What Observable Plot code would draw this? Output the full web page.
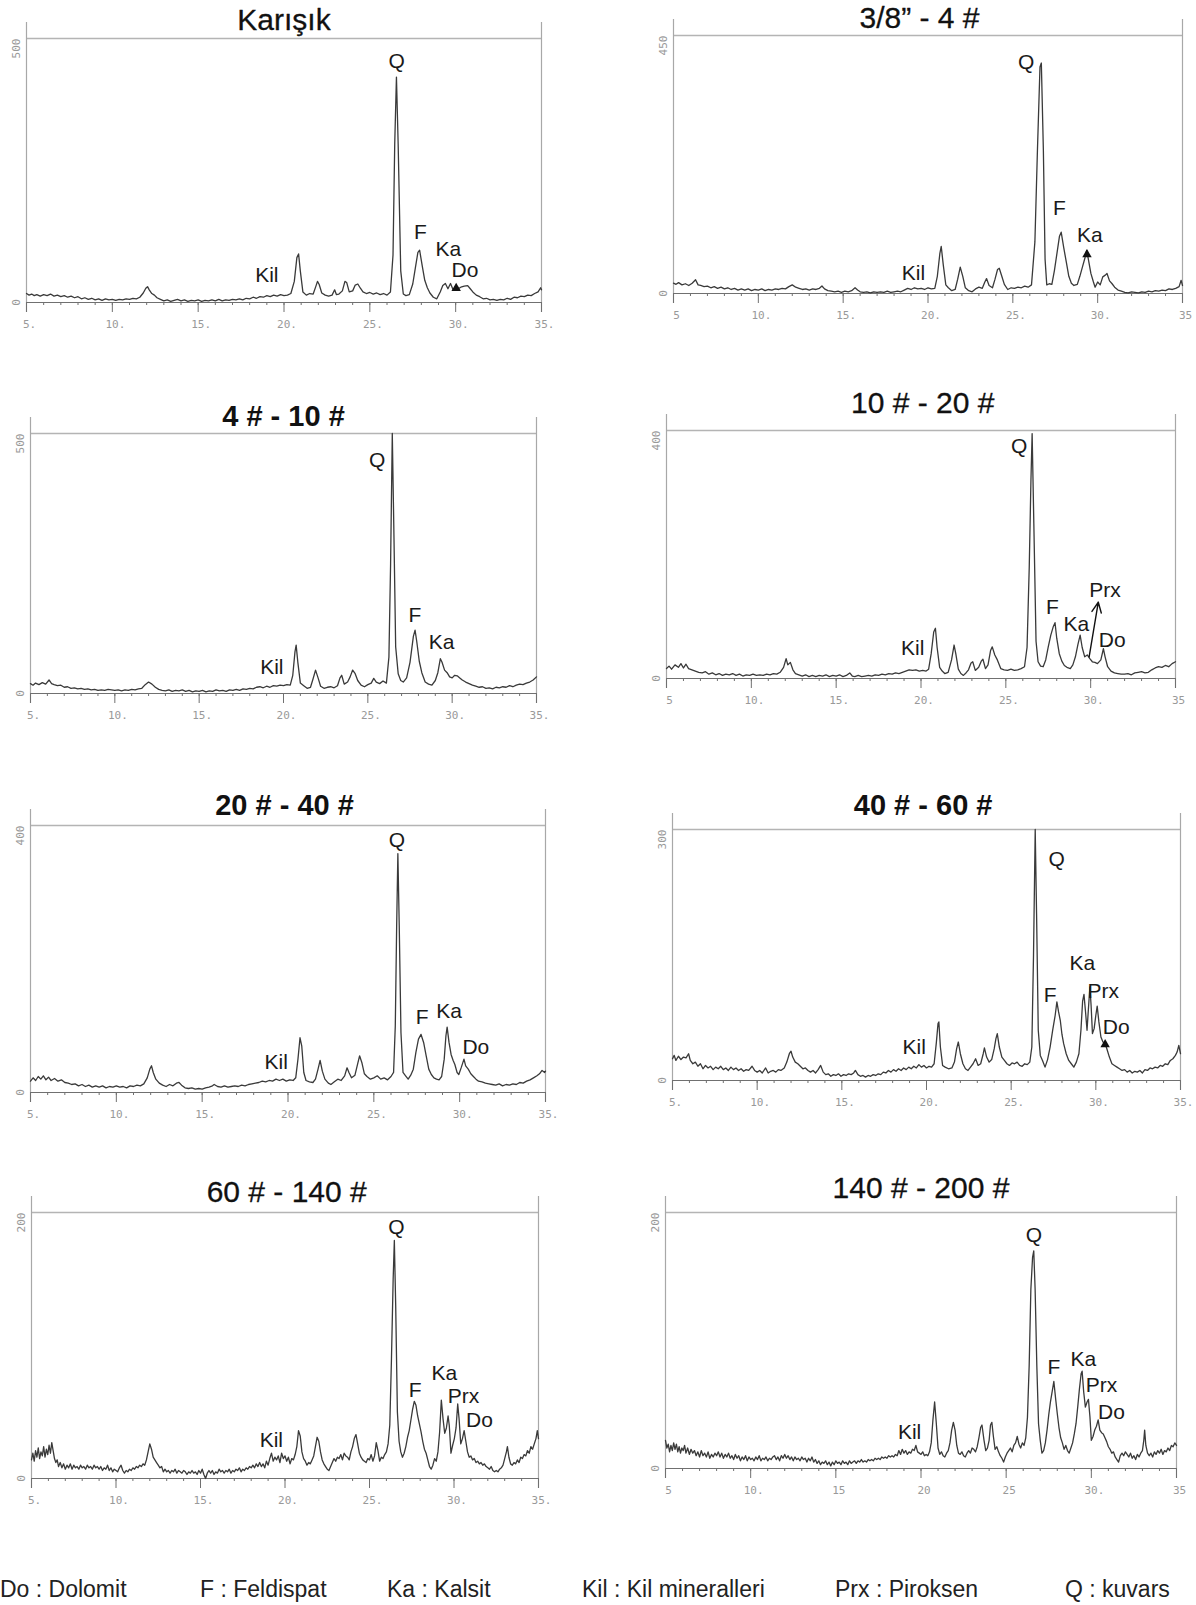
<!DOCTYPE html>
<html><head><meta charset="utf-8">
<script src="https://cdn.jsdelivr.net/npm/d3@7"></script>
<script src="https://cdn.jsdelivr.net/npm/@observablehq/plot@0.6"></script>
<style>
body{margin:0;background:#fff;}
#fig{position:relative;width:1196px;height:1605px;background:#fff;font-family:"Liberation Sans",Arial,sans-serif;overflow:hidden;}
.panel{position:absolute;}
.legend{position:absolute;top:1575px;font-size:23px;line-height:28px;color:#222;white-space:nowrap;font-family:"Liberation Sans",Arial,sans-serif;}
</style></head><body><div id="fig"></div>
<script>
// ---------- data: 2θ (deg) vs intensity (counts) ----------
const karisik = [[5,17],[5.15,14],[5.3,16],[5.45,13],[5.6,15],[5.8,12],[6,15],[6.2,13],[6.4,16],[6.6,12],[6.8,14],[7,11],[7.2,13],[7.4,10],[7.6,12],[7.8,9],[8,11],[8.2,7],[8.4,9],[8.6,6],[8.8,8],[9,5],[9.2,7],[9.4,4],[9.6,7],[9.8,5],[10,6],[10.2,4],[10.4,6],[10.6,5],[10.8,7],[11,6],[11.2,8],[11.4,7],[11.6,10],[11.8,18],[11.95,27],[12.05,30],[12.15,24],[12.3,17],[12.45,14],[12.6,9],[12.8,6],[13,3],[13.2,5],[13.4,2],[13.6,4],[13.8,6],[14,3],[14.2,5],[14.4,2],[14.6,4],[14.8,3],[15,5],[15.2,2],[15.4,4],[15.6,3],[15.8,5],[16,3],[16.2,6],[16.4,3],[16.6,5],[16.8,4],[17,6],[17.2,5],[17.4,7],[17.6,5],[17.8,8],[18,7],[18.2,10],[18.4,8],[18.6,11],[18.8,10],[19,13],[19.2,11],[19.4,14],[19.6,12],[19.8,15],[20,13],[20.2,14],[20.4,17],[20.6,40],[20.75,85],[20.85,92],[20.95,60],[21.1,20],[21.3,14],[21.5,17],[21.7,16],[21.85,30],[21.95,40],[22.05,34],[22.2,18],[22.4,14],[22.6,12],[22.8,14],[22.95,24],[23.05,15],[23.2,16],[23.4,22],[23.55,40],[23.65,38],[23.8,20],[24,22],[24.15,33],[24.3,35],[24.45,27],[24.6,20],[24.8,17],[25,19],[25.2,16],[25.4,18],[25.6,15],[25.8,17],[26,14],[26.2,20],[26.35,90],[26.45,300],[26.55,427],[26.65,300],[26.8,60],[26.95,16],[27.1,13],[27.3,15],[27.5,35],[27.65,65],[27.8,95],[27.9,99],[28.05,70],[28.2,42],[28.35,28],[28.5,18],[28.7,10],[28.9,7],[29.1,20],[29.25,32],[29.4,36],[29.55,26],[29.7,36],[29.85,24],[30,30],[30.15,26],[30.3,29],[30.5,31],[30.7,32],[30.85,26],[31,20],[31.2,14],[31.4,11],[31.6,7],[31.8,8],[32,5],[32.2,6],[32.4,4],[32.6,6],[32.8,5],[33,8],[33.2,6],[33.4,10],[33.6,9],[33.8,12],[34,11],[34.2,14],[34.4,13],[34.6,17],[34.8,20],[34.95,28],[35,24]];

const s38_4 = [[5,18],[5.15,16],[5.3,19],[5.5,15],[5.7,17],[5.9,14],[6.1,18],[6.3,24],[6.45,15],[6.6,14],[6.8,12],[7,13],[7.2,10],[7.4,12],[7.6,9],[7.8,11],[8,8],[8.2,10],[8.4,7],[8.6,9],[8.8,6],[9,8],[9.2,6],[9.4,8],[9.6,5],[9.8,7],[10,6],[10.2,8],[10.4,5],[10.6,7],[10.8,6],[11,8],[11.2,7],[11.4,9],[11.6,8],[11.8,12],[12,15],[12.2,11],[12.4,9],[12.6,7],[12.8,8],[13,6],[13.2,8],[13.4,7],[13.6,9],[13.75,13],[13.9,8],[14.1,5],[14.3,4],[14.5,3],[14.7,4],[14.9,2],[15.1,4],[15.3,3],[15.5,5],[15.7,10],[15.85,6],[16,3],[16.2,2],[16.4,3],[16.6,1],[16.8,3],[17,2],[17.2,3],[17.4,2],[17.6,4],[17.8,2],[18,3],[18.2,4],[18.4,3],[18.6,6],[18.8,9],[19,7],[19.2,10],[19.4,8],[19.6,9],[19.8,7],[20,10],[20.2,8],[20.4,9],[20.55,30],[20.7,70],[20.78,82],[20.9,50],[21.05,15],[21.2,10],[21.4,5],[21.6,7],[21.75,25],[21.9,46],[22.05,30],[22.2,10],[22.4,5],[22.6,3],[22.8,8],[23,11],[23.2,9],[23.35,20],[23.45,26],[23.6,14],[23.8,10],[23.95,25],[24.1,42],[24.2,44],[24.35,30],[24.5,16],[24.7,7],[24.9,10],[25.1,9],[25.3,11],[25.5,10],[25.7,13],[25.9,11],[26.1,15],[26.3,90],[26.45,250],[26.6,395],[26.68,402],[26.8,250],[26.9,60],[27,15],[27.15,17],[27.3,16],[27.45,40],[27.6,70],[27.75,100],[27.85,107],[28,80],[28.15,55],[28.3,30],[28.45,18],[28.6,14],[28.8,16],[28.95,30],[29.1,46],[29.25,62],[29.35,75],[29.45,60],[29.6,35],[29.75,20],[29.85,11],[30,20],[30.15,15],[30.3,29],[30.45,32],[30.55,35],[30.7,22],[30.85,17],[31,11],[31.2,6],[31.4,4],[31.6,2],[31.8,1],[32,3],[32.2,2],[32.4,1],[32.6,3],[32.8,2],[33,4],[33.2,3],[33.4,5],[33.6,4],[33.8,6],[34,5],[34.2,8],[34.4,7],[34.6,9],[34.8,12],[34.92,23],[35,14]];

const s4_10 = [[5,19],[5.15,16],[5.3,20],[5.5,17],[5.7,21],[5.9,18],[6.1,26],[6.25,19],[6.4,17],[6.6,15],[6.8,16],[7,12],[7.2,13],[7.4,10],[7.6,11],[7.8,9],[8,10],[8.2,8],[8.4,9],[8.6,7],[8.8,8],[9,6],[9.2,7],[9.4,6],[9.6,8],[9.8,7],[10,6],[10.2,7],[10.4,5],[10.6,7],[10.8,6],[11,8],[11.2,7],[11.4,9],[11.6,10],[11.8,17],[12,22],[12.2,18],[12.4,12],[12.6,8],[12.8,6],[13,5],[13.2,7],[13.4,4],[13.6,6],[13.8,5],[14,7],[14.2,4],[14.4,6],[14.6,3],[14.8,5],[15,4],[15.2,6],[15.4,3],[15.6,5],[15.8,4],[16,7],[16.2,5],[16.4,6],[16.6,4],[16.8,7],[17,6],[17.2,8],[17.4,6],[17.6,9],[17.8,8],[18,10],[18.2,9],[18.4,12],[18.6,13],[18.8,11],[19,14],[19.2,12],[19.4,15],[19.6,14],[19.8,16],[20,15],[20.2,17],[20.4,16],[20.55,35],[20.68,80],[20.75,93],[20.85,60],[21,20],[21.2,15],[21.4,10],[21.6,12],[21.75,28],[21.9,45],[22.05,30],[22.2,14],[22.4,10],[22.6,12],[22.8,13],[23,11],[23.2,15],[23.35,30],[23.45,35],[23.6,18],[23.8,22],[23.95,32],[24.1,45],[24.25,38],[24.4,25],[24.6,16],[24.8,13],[25,17],[25.2,20],[25.35,29],[25.5,22],[25.7,19],[25.9,24],[26.1,20],[26.25,70],[26.35,250],[26.45,500],[26.55,300],[26.65,90],[26.8,38],[26.95,25],[27.1,22],[27.3,30],[27.5,60],[27.7,110],[27.8,122],[27.9,100],[28.05,62],[28.2,40],[28.4,22],[28.6,18],[28.8,16],[29,25],[29.15,40],[29.3,67],[29.4,60],[29.55,45],[29.7,40],[29.85,32],[30,30],[30.15,35],[30.3,34],[30.45,30],[30.6,26],[30.8,22],[31,19],[31.2,16],[31.4,14],[31.6,12],[31.8,13],[32,10],[32.2,11],[32.4,9],[32.6,12],[32.8,11],[33,13],[33.2,12],[33.4,15],[33.6,13],[33.8,16],[34,18],[34.2,17],[34.4,20],[34.6,22],[34.8,26],[35,32]];

const s10_20 = [[5,16],[5.15,20],[5.3,15],[5.5,22],[5.7,18],[5.85,24],[6,17],[6.15,23],[6.3,16],[6.5,14],[6.7,12],[6.9,10],[7.1,9],[7.3,11],[7.5,7],[7.7,9],[7.9,6],[8.1,8],[8.3,5],[8.5,7],[8.7,6],[8.9,8],[9.1,5],[9.3,7],[9.5,4],[9.7,6],[9.9,5],[10.1,7],[10.3,5],[10.5,6],[10.7,5],[10.9,7],[11.1,6],[11.3,8],[11.5,7],[11.7,10],[11.9,18],[12.05,32],[12.15,22],[12.3,26],[12.45,14],[12.6,8],[12.8,6],[13,4],[13.2,6],[13.4,3],[13.6,5],[13.8,3],[14,5],[14.2,4],[14.4,6],[14.6,3],[14.8,5],[15,4],[15.2,6],[15.4,3],[15.6,5],[15.8,9],[15.95,4],[16.1,3],[16.3,5],[16.5,3],[16.7,4],[16.9,5],[17.1,4],[17.3,6],[17.5,5],[17.7,7],[17.9,6],[18.1,8],[18.3,7],[18.5,9],[18.7,8],[18.9,10],[19.1,12],[19.3,14],[19.5,13],[19.7,14],[19.9,12],[20.1,13],[20.3,12],[20.45,15],[20.6,40],[20.75,75],[20.85,81],[20.95,50],[21.1,18],[21.25,12],[21.4,8],[21.6,10],[21.8,30],[21.95,54],[22.05,40],[22.2,15],[22.35,8],[22.5,5],[22.65,9],[22.8,14],[22.95,25],[23.05,27],[23.2,13],[23.4,18],[23.55,28],[23.65,31],[23.8,16],[23.95,22],[24.1,45],[24.2,51],[24.35,38],[24.5,30],[24.7,16],[24.9,14],[25.1,13],[25.3,15],[25.5,13],[25.7,14],[25.9,16],[26.1,19],[26.25,50],[26.38,180],[26.48,320],[26.55,395],[26.65,250],[26.78,60],[26.9,27],[27.05,20],[27.2,19],[27.35,30],[27.5,51],[27.65,70],[27.8,84],[27.9,90],[28,65],[28.15,40],[28.3,28],[28.45,21],[28.6,18],[28.8,16],[28.95,22],[29.1,35],[29.25,55],[29.38,70],[29.5,50],[29.65,35],[29.8,38],[29.95,32],[30.1,27],[30.25,26],[30.4,24],[30.6,30],[30.75,48],[30.85,35],[31,19],[31.2,12],[31.4,9],[31.6,8],[31.8,7],[32,7],[32.2,8],[32.4,6],[32.6,9],[32.8,10],[33,11],[33.2,9],[33.4,10],[33.6,14],[33.8,17],[34,19],[34.2,18],[34.4,21],[34.6,19],[34.8,24],[35,27]];

const s20_40 = [[5,17],[5.15,22],[5.3,18],[5.45,24],[5.6,20],[5.75,25],[5.9,19],[6.05,23],[6.2,18],[6.4,21],[6.6,17],[6.8,19],[7,15],[7.2,14],[7.4,12],[7.6,13],[7.8,10],[8,12],[8.2,9],[8.4,11],[8.6,8],[8.8,10],[9,8],[9.2,10],[9.4,7],[9.6,9],[9.8,8],[10,10],[10.2,8],[10.4,9],[10.6,7],[10.8,10],[11,9],[11.2,11],[11.4,10],[11.6,13],[11.8,22],[11.95,35],[12.05,40],[12.15,30],[12.3,20],[12.5,14],[12.7,11],[12.9,9],[13.1,12],[13.3,10],[13.5,14],[13.65,15],[13.8,11],[14,7],[14.2,6],[14.4,7],[14.6,5],[14.8,6],[15,5],[15.2,7],[15.4,8],[15.6,10],[15.7,12],[15.9,9],[16.1,8],[16.3,10],[16.5,8],[16.7,9],[16.9,10],[17.1,9],[17.3,11],[17.5,10],[17.7,12],[17.9,13],[18.1,14],[18.3,15],[18.5,17],[18.7,16],[18.9,18],[19.1,17],[19.3,20],[19.5,18],[19.7,20],[19.9,17],[20.1,19],[20.3,18],[20.45,22],[20.58,50],[20.7,82],[20.8,70],[20.92,30],[21.05,18],[21.25,16],[21.45,15],[21.6,20],[21.75,35],[21.87,48],[22,32],[22.15,20],[22.35,14],[22.5,12],[22.7,16],[22.9,20],[23.1,18],[23.3,25],[23.44,37],[23.55,30],[23.7,22],[23.9,26],[24.05,42],[24.17,55],[24.3,45],[24.45,28],[24.6,24],[24.8,20],[25,22],[25.2,25],[25.4,20],[25.6,22],[25.8,19],[26,24],[26.15,30],[26.25,100],[26.33,250],[26.4,358],[26.48,250],[26.58,90],[26.7,30],[26.85,25],[27,20],[27.15,26],[27.3,35],[27.45,60],[27.6,80],[27.75,87],[27.9,75],[28.05,55],[28.2,35],[28.35,27],[28.5,22],[28.65,20],[28.8,19],[28.95,24],[29.1,50],[29.2,85],[29.27,98],[29.38,75],[29.5,57],[29.62,48],[29.72,42],[29.85,30],[29.95,27],[30.1,38],[30.25,50],[30.35,40],[30.5,35],[30.65,28],[30.8,24],[30.95,20],[31.1,17],[31.3,16],[31.5,14],[31.7,13],[31.9,12],[32.1,11],[32.3,13],[32.5,10],[32.7,12],[32.9,11],[33.1,13],[33.3,12],[33.5,15],[33.7,14],[33.9,17],[34.1,19],[34.3,22],[34.5,25],[34.65,28],[34.8,33],[34.95,30],[35,32]];

const s40_60 = [[5,26],[5.1,30],[5.2,24],[5.35,29],[5.5,25],[5.65,28],[5.8,27],[5.95,32],[6.05,24],[6.2,20],[6.35,22],[6.5,17],[6.65,20],[6.8,14],[6.95,18],[7.1,15],[7.25,17],[7.4,13],[7.55,16],[7.7,14],[7.85,17],[8,13],[8.15,15],[8.3,12],[8.45,16],[8.6,13],[8.75,15],[8.9,12],[9.05,14],[9.2,11],[9.35,13],[9.5,12],[9.7,17],[9.85,12],[10,10],[10.15,12],[10.3,9],[10.5,15],[10.65,9],[10.8,11],[10.95,12],[11.1,10],[11.25,13],[11.4,12],[11.6,15],[11.75,22],[11.9,32],[12,35],[12.1,28],[12.25,22],[12.4,20],[12.55,17],[12.7,14],[12.85,15],[13,12],[13.15,10],[13.3,12],[13.45,9],[13.6,13],[13.75,18],[13.9,10],[14.05,7],[14.2,8],[14.35,5],[14.5,7],[14.65,6],[14.8,8],[14.95,5],[15.1,7],[15.25,6],[15.4,8],[15.55,7],[15.7,9],[15.8,12],[15.95,7],[16.1,5],[16.25,6],[16.4,4],[16.55,6],[16.7,5],[16.85,7],[17,6],[17.15,8],[17.3,7],[17.45,10],[17.6,9],[17.75,12],[17.9,10],[18.05,13],[18.2,11],[18.35,14],[18.5,12],[18.65,15],[18.8,13],[18.95,16],[19.1,14],[19.25,17],[19.4,15],[19.55,19],[19.7,16],[19.85,18],[20,15],[20.15,17],[20.3,16],[20.45,20],[20.58,45],[20.68,68],[20.73,70],[20.82,40],[20.95,18],[21.1,16],[21.3,14],[21.5,15],[21.65,22],[21.78,38],[21.88,46],[22,32],[22.15,20],[22.3,14],[22.45,12],[22.6,16],[22.75,20],[22.9,26],[23.05,18],[23.2,20],[23.35,32],[23.42,39],[23.55,28],[23.7,22],[23.85,25],[24,38],[24.1,50],[24.18,56],[24.3,40],[24.45,28],[24.6,24],[24.75,20],[24.9,18],[25.05,21],[25.2,20],[25.35,22],[25.5,18],[25.65,17],[25.8,20],[25.95,19],[26.1,22],[26.22,40],[26.32,150],[26.42,300],[26.5,200],[26.6,60],[26.72,30],[26.85,24],[27,16],[27.15,25],[27.3,40],[27.45,60],[27.6,78],[27.7,94],[27.8,82],[27.9,72],[28,55],[28.1,44],[28.25,32],[28.4,24],[28.55,20],[28.7,16],[28.85,22],[29,32],[29.12,60],[29.22,95],[29.3,103],[29.4,80],[29.48,60],[29.56,85],[29.65,112],[29.72,90],[29.8,56],[29.9,62],[30,78],[30.08,89],[30.18,70],[30.3,52],[30.42,46],[30.55,44],[30.65,38],[30.8,28],[30.95,20],[31.1,18],[31.25,16],[31.4,14],[31.55,12],[31.7,13],[31.85,10],[32,12],[32.15,9],[32.3,11],[32.45,10],[32.6,12],[32.75,9],[32.9,13],[33.05,12],[33.2,15],[33.35,14],[33.5,16],[33.65,15],[33.8,18],[33.95,17],[34.1,20],[34.25,19],[34.4,24],[34.55,26],[34.7,30],[34.8,34],[34.9,42],[35,32]];

const s60_140 = [[5,14],[5.08,19],[5.16,13],[5.24,21],[5.32,16],[5.4,23],[5.48,15],[5.56,20],[5.64,17],[5.72,24],[5.8,16],[5.88,22],[5.96,18],[6.04,25],[6.12,19],[6.2,27],[6.28,21],[6.36,15],[6.44,12],[6.52,14],[6.6,9],[6.7,12],[6.8,8],[6.9,11],[7,7],[7.1,10],[7.2,8],[7.3,11],[7.4,7],[7.5,10],[7.6,8],[7.7,9],[7.8,7],[7.9,10],[8,8],[8.1,9],[8.2,7],[8.3,10],[8.4,8],[8.5,9],[8.6,7],[8.7,10],[8.8,8],[8.9,9],[9,7],[9.1,9],[9.2,6],[9.3,8],[9.4,7],[9.5,10],[9.6,6],[9.7,8],[9.8,5],[9.9,7],[10,6],[10.1,5],[10.2,8],[10.3,10],[10.4,6],[10.5,4],[10.6,6],[10.7,5],[10.8,7],[10.9,6],[11,8],[11.1,7],[11.2,9],[11.3,8],[11.4,10],[11.5,9],[11.6,11],[11.7,10],[11.8,14],[11.9,20],[12,26],[12.1,22],[12.2,16],[12.3,14],[12.4,12],[12.5,10],[12.6,8],[12.7,9],[12.8,5],[12.9,7],[13,5],[13.1,6],[13.2,4],[13.3,6],[13.4,5],[13.5,7],[13.6,4],[13.7,6],[13.8,5],[13.9,4],[14,6],[14.1,5],[14.2,3],[14.3,5],[14.4,4],[14.5,6],[14.6,4],[14.7,5],[14.8,3],[14.9,6],[15,4],[15.1,7],[15.2,3],[15.3,0],[15.4,4],[15.5,6],[15.6,4],[15.7,6],[15.8,3],[15.9,5],[16,4],[16.1,7],[16.2,5],[16.3,6],[16.4,4],[16.5,6],[16.6,5],[16.7,7],[16.8,4],[16.9,6],[17,5],[17.1,7],[17.2,6],[17.3,8],[17.4,5],[17.5,7],[17.6,6],[17.7,8],[17.8,7],[17.9,9],[18,8],[18.1,10],[18.2,8],[18.3,11],[18.4,9],[18.5,12],[18.6,9],[18.7,11],[18.8,8],[18.9,13],[19,10],[19.1,15],[19.2,19],[19.3,13],[19.4,16],[19.5,14],[19.6,17],[19.7,12],[19.8,19],[19.9,15],[20,17],[20.1,13],[20.2,16],[20.3,11],[20.4,15],[20.5,14],[20.6,18],[20.7,24],[20.8,36],[20.9,32],[21,20],[21.1,15],[21.2,13],[21.3,10],[21.4,12],[21.5,11],[21.6,14],[21.7,17],[21.8,24],[21.9,31],[22,28],[22.1,20],[22.2,14],[22.3,11],[22.4,9],[22.5,7],[22.6,6],[22.7,9],[22.8,12],[22.9,15],[23,13],[23.1,16],[23.2,15],[23.3,18],[23.4,14],[23.5,19],[23.6,17],[23.7,16],[23.8,14],[23.9,20],[24,24],[24.1,30],[24.2,33],[24.3,26],[24.4,19],[24.5,16],[24.6,14],[24.7,13],[24.8,12],[24.9,15],[25,14],[25.1,18],[25.2,13],[25.3,17],[25.4,27],[25.5,21],[25.6,13],[25.7,16],[25.8,15],[25.9,18],[26,20],[26.1,26],[26.2,40],[26.3,90],[26.4,150],[26.47,179],[26.55,130],[26.65,50],[26.75,28],[26.85,20],[26.95,16],[27.05,19],[27.15,24],[27.25,31],[27.35,36],[27.45,44],[27.55,52],[27.65,58],[27.75,55],[27.85,47],[27.95,41],[28.05,35],[28.15,28],[28.25,22],[28.35,19],[28.45,14],[28.55,9],[28.65,7],[28.75,10],[28.85,15],[28.95,13],[29.05,20],[29.15,35],[29.25,59],[29.35,45],[29.45,34],[29.55,38],[29.65,47],[29.72,40],[29.82,19],[29.92,25],[30.02,30],[30.12,38],[30.22,56],[30.3,45],[30.4,26],[30.5,30],[30.6,36],[30.7,28],[30.8,20],[30.9,16],[31,17],[31.1,14],[31.2,15],[31.3,12],[31.4,13],[31.5,11],[31.6,12],[31.7,10],[31.8,11],[31.9,9],[32,8],[32.1,7],[32.2,9],[32.3,6],[32.4,5],[32.5,6],[32.6,5],[32.7,7],[32.8,8],[32.9,10],[33,15],[33.1,20],[33.16,24],[33.25,16],[33.35,11],[33.45,10],[33.55,12],[33.65,11],[33.75,14],[33.85,12],[33.95,16],[34.05,15],[34.15,18],[34.25,17],[34.35,21],[34.45,19],[34.55,24],[34.65,22],[34.75,26],[34.85,30],[34.93,36],[35,30]];

const s140_200 = [[5,22],[5.08,16],[5.16,19],[5.24,13],[5.32,18],[5.4,14],[5.48,20],[5.56,15],[5.64,19],[5.72,13],[5.8,17],[5.88,12],[5.96,16],[6.04,14],[6.12,18],[6.2,12],[6.3,16],[6.4,11],[6.5,15],[6.6,12],[6.7,14],[6.8,10],[6.9,13],[7,9],[7.1,14],[7.2,10],[7.3,12],[7.4,9],[7.5,13],[7.6,8],[7.7,11],[7.8,9],[7.9,12],[8,10],[8.1,13],[8.2,9],[8.3,12],[8.4,8],[8.5,11],[8.6,9],[8.7,12],[8.8,8],[8.9,10],[9,7],[9.1,11],[9.2,8],[9.3,10],[9.4,6],[9.5,9],[9.6,7],[9.7,10],[9.8,6],[9.9,9],[10,7],[10.1,8],[10.2,6],[10.3,9],[10.4,7],[10.5,10],[10.6,6],[10.7,8],[10.8,7],[10.9,9],[11,6],[11.1,8],[11.2,7],[11.3,9],[11.4,10],[11.5,7],[11.6,9],[11.7,6],[11.8,10],[11.9,8],[12,11],[12.1,8],[12.2,10],[12.3,7],[12.4,9],[12.5,6],[12.6,9],[12.7,7],[12.8,8],[12.9,6],[13,9],[13.1,7],[13.2,8],[13.3,5],[13.4,8],[13.5,6],[13.6,9],[13.7,5],[13.8,7],[13.9,4],[14,6],[14.1,3],[14.2,5],[14.3,4],[14.4,6],[14.5,3],[14.6,5],[14.7,2],[14.8,5],[14.9,3],[15,6],[15.1,4],[15.2,5],[15.3,3],[15.4,6],[15.5,4],[15.6,5],[15.7,3],[15.8,6],[15.9,4],[16,5],[16.1,6],[16.2,4],[16.3,6],[16.4,5],[16.5,7],[16.6,5],[16.7,6],[16.8,5],[16.9,7],[17,6],[17.1,7],[17.2,6],[17.3,8],[17.4,7],[17.5,8],[17.6,7],[17.7,9],[17.8,8],[17.9,9],[18,8],[18.1,10],[18.2,9],[18.3,10],[18.4,9],[18.5,11],[18.6,10],[18.7,14],[18.8,11],[18.9,15],[19,12],[19.1,14],[19.2,11],[19.3,13],[19.4,12],[19.5,15],[19.6,14],[19.7,18],[19.8,13],[19.9,12],[20,11],[20.1,13],[20.2,10],[20.3,11],[20.4,10],[20.5,13],[20.6,20],[20.7,38],[20.8,52],[20.9,35],[21,16],[21.1,11],[21.2,13],[21.3,10],[21.4,9],[21.5,12],[21.6,14],[21.7,20],[21.8,30],[21.9,36],[22,30],[22.1,18],[22.2,12],[22.3,11],[22.4,13],[22.5,10],[22.6,9],[22.7,12],[22.8,14],[22.9,12],[23,16],[23.1,15],[23.2,13],[23.3,17],[23.4,24],[23.5,32],[23.58,34],[23.7,22],[23.8,14],[23.9,16],[24,22],[24.08,34],[24.16,36],[24.25,25],[24.35,15],[24.45,17],[24.55,13],[24.65,10],[24.75,8],[24.85,5],[24.95,9],[25.05,12],[25.15,14],[25.25,16],[25.35,13],[25.45,18],[25.55,20],[25.65,25],[25.75,19],[25.85,16],[25.95,20],[26.05,18],[26.15,24],[26.25,40],[26.35,80],[26.45,140],[26.55,165],[26.62,170],[26.7,140],[26.8,80],[26.9,35],[27,22],[27.1,12],[27.2,14],[27.3,20],[27.4,30],[27.5,42],[27.6,52],[27.7,60],[27.8,68],[27.9,55],[28,43],[28.1,32],[28.2,24],[28.3,20],[28.4,15],[28.5,18],[28.6,14],[28.7,12],[28.8,16],[28.9,20],[29,27],[29.1,35],[29.2,48],[29.3,62],[29.4,74],[29.46,76],[29.55,60],[29.65,48],[29.75,52],[29.83,54],[29.92,40],[30,22],[30.1,25],[30.2,30],[30.3,33],[30.4,38],[30.5,30],[30.6,28],[30.7,27],[30.8,24],[30.9,21],[31,17],[31.1,15],[31.2,12],[31.3,13],[31.4,9],[31.5,7],[31.6,5],[31.7,10],[31.8,12],[31.9,10],[32,13],[32.1,11],[32.2,9],[32.3,12],[32.4,8],[32.5,10],[32.6,7],[32.7,11],[32.8,9],[32.9,12],[33,14],[33.08,22],[33.13,30],[33.2,18],[33.3,12],[33.4,10],[33.5,12],[33.6,9],[33.7,13],[33.8,11],[33.9,14],[34,12],[34.1,15],[34.2,11],[34.3,14],[34.4,13],[34.5,16],[34.6,14],[34.7,18],[34.8,17],[34.9,20],[35,18]];

// panel titles and y maxima
const titles = ["Karışık", "3/8\u201D - 4 #", "4 # - 10 #", "10 # - 20 #", "20 # - 40 #", "40 # - 60 #", "60 # - 140 #", "140 # - 200 #"];
const yMax = [500, 450, 500, 400, 400, 300, 200, 200];
const titleX = [20, 19.5, 20, 20.1, 19.8, 19.8, 20.1, 20];

// x axis ticks and labels
const xMajorTicks = [5, 10, 15, 20, 25, 30, 35];
const xMinorTicks = [5,6,7,8,9,10,11,12,13,14,15,16,17,18,19,20,21,22,23,24,25,26,27,28,29,30,31,32,33,34,35];
const tickLabelsDot = ["5.", "10.", "15.", "20.", "25.", "30.", "35."];
const tickLabelsB = ["5", "10.", "15.", "20.", "25.", "30.", "35"];
const tickLabelsC = ["5", "10.", "15", "20", "25", "30.", "35"];

// mineral labels: [text, 2θ, counts]
const labKarisik = [["Q",26.57,456],["F",27.95,133],["Ka",29.57,101],["Do",30.54,61],["Kil",19.0,51]];
const lab38_4 = [["Q",25.79,404],["F",27.74,148],["Ka",29.54,102],["Kil",19.14,35]];
const lab4_10 = [["Q",25.56,449],["F",27.79,151],["Ka",29.38,99],["Kil",19.31,51]];
const lab10_20 = [["Q",25.79,374],["F",27.74,115],["Ka",29.15,87],["Prx",30.84,142],["Do",31.27,62],["Kil",19.51,48]];
const lab20_40 = [["Q",26.35,378],["F",27.81,113],["Ka",29.38,122],["Do",30.94,68],["Kil",19.31,46]];
const lab40_60 = [["Q",27.69,264],["F",27.3,102],["Ka",29.21,140],["Prx",30.44,107],["Do",31.2,64],["Kil",19.27,40]];
const lab60_140 = [["Q",26.6,189],["F",27.7,66],["Ka",29.43,79],["Prx",30.56,62],["Do",31.51,44],["Kil",19.19,29]];
const lab140_200 = [["Q",26.63,182],["F",27.81,79],["Ka",29.53,85],["Prx",30.6,65],["Do",31.18,44],["Kil",19.33,28]];

// Prx arrow in the 10 # - 20 # pattern: [x1, y1, x2, y2]
const prxArrow = [[29.91, 35, 30.45, 123]];
// small black pointer heads drawn on some patterns: [panel, 2θ, counts]
const pointerHeads = [[0, 30.03, 27], [1, 29.37, 68], [5, 30.55, 43]];

const legendItems = ["Do : Dolomit", "F : Feldispat", "Ka : Kalsit", "Kil : Kil mineralleri", "Prx : Piroksen", "Q : kuvars"];

// ---------- layout ----------
const series = [karisik, s38_4, s4_10, s10_20, s20_40, s40_60, s60_140, s140_200];
const labels = [labKarisik, lab38_4, lab4_10, lab10_20, lab20_40, lab40_60, lab60_140, lab140_200];
const tickSets = [tickLabelsDot, tickLabelsB, tickLabelsDot, tickLabelsB, tickLabelsDot, tickLabelsDot, tickLabelsDot, tickLabelsC];
// cell origin and margins [left, top, mL, mR, mT, mB, titleDy, titleBold]
const layout = [
  [0,   0,    26, 57, 38, 78, -18, false],
  [598, 0,    75, 14, 35, 87, -17, false],
  [0,   380,  30, 62, 53, 67, -17, true],
  [598, 380,  68, 21, 50, 82, -27, false],
  [0,   780,  30, 53, 45, 68, -20, true],
  [598, 780,  74, 16, 49, 80, -24, true],
  [0,   1160, 31, 60, 52, 62, -20, false],
  [598, 1160, 67, 20, 52, 72, -24, false]
];
const CW = 598, CH = 380;
const fig = document.getElementById("fig");
const mono = "DejaVu Sans Mono";

series.forEach((data, k) => {
  const [cx, cy, mL, mR, mT, mB, tDy, bold] = layout[k];
  const ym = yMax[k];
  const marks = [
    Plot.ruleY([ym], {stroke: "#b4b4b4", strokeWidth: 1.3}),
    Plot.ruleX([5, 35], {stroke: "#a8a8a8", strokeWidth: 1.2, insetTop: -16, insetBottom: -10}),
    Plot.ruleY([0], {stroke: "#707070", strokeWidth: 1.2}),
    Plot.axisX({ticks: xMinorTicks, tickSize: 3, tickFormat: () => "", stroke: "#707070", label: null}),
    Plot.axisX({ticks: xMajorTicks, tickSize: 10, tickFormat: () => "", stroke: "#707070", label: null}),
    Plot.text(xMajorTicks, {x: d => d, frameAnchor: "bottom", dy: 25, dx: 3, text: (d, i) => tickSets[k][i], fill: "#999", fontSize: 11, fontFamily: mono}),
    Plot.text([0], {y: d => d, frameAnchor: "left", dx: -10, rotate: -90, textAnchor: "middle", text: d => String(d), fill: "#999", fontSize: 11, fontFamily: mono}),
    Plot.text([ym], {y: d => d, frameAnchor: "left", dx: -10, rotate: -90, textAnchor: "end", text: d => String(d), fill: "#999", fontSize: 11, fontFamily: mono}),
    Plot.line(data, {x: d => d[0], y: d => d[1], stroke: "#3a3a3a", strokeWidth: 1.3}),
    Plot.text(labels[k], {x: d => d[1], y: d => d[2], text: d => d[0], fill: "#1a1a1a", fontSize: 21, fontFamily: "Liberation Sans"}),
    Plot.text([titles[k]], {x: () => titleX[k], y: () => ym, dy: tDy, text: d => d, fill: "#111",
      stroke: bold ? null : "#111", strokeWidth: bold ? 0 : 0.3,
      fontSize: bold ? 29 : 30, fontWeight: bold ? "bold" : "normal", fontFamily: "Liberation Sans"}),
    Plot.dot(pointerHeads.filter(p => p[0] === k), {x: d => d[1], y: d => d[2], symbol: "triangle", r: 3.5, fill: "#111", stroke: "none"})
  ];
  if (k === 3) {
    marks.push(Plot.arrow(prxArrow, {x1: d => d[0], y1: d => d[1], x2: d => d[2], y2: d => d[3], stroke: "#111", strokeWidth: 1.4, headLength: 12, headAngle: 50}));
  }
  const svg = Plot.plot({
    width: CW, height: CH,
    marginLeft: mL, marginRight: mR, marginTop: mT, marginBottom: mB,
    x: {domain: [5, 35]},
    y: {domain: [0, ym], axis: null},
    style: {background: "white", overflow: "visible", fontFamily: "Liberation Sans"},
    marks
  });
  const wrap = document.createElement("div");
  wrap.className = "panel";
  wrap.style.left = cx + "px";
  wrap.style.top = cy + "px";
  wrap.appendChild(svg);
  fig.appendChild(wrap);
});

const legendX = [0, 200, 387, 582, 835, 1065];
legendItems.forEach((t, i) => {
  const d = document.createElement("div");
  d.className = "legend";
  d.style.left = legendX[i] + "px";
  d.textContent = t;
  fig.appendChild(d);
});
</script>
</body></html>
